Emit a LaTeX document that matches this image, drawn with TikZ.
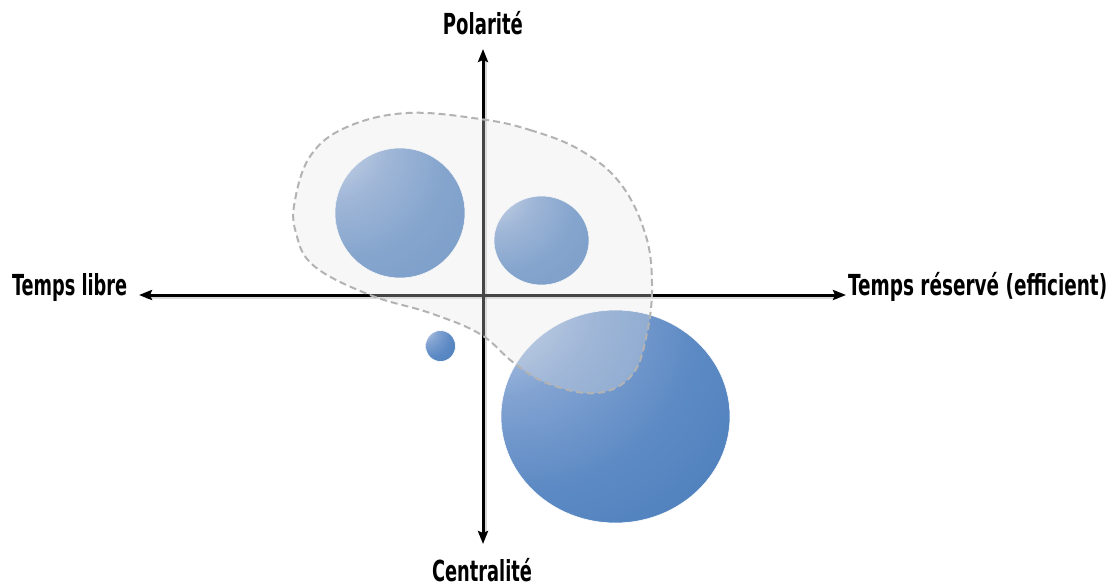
\documentclass[tikz,border=0pt]{standalone}
\usepackage{fontspec}
\usepackage{graphicx}
\newfontfamily\labfont{DejaVu Sans Condensed Bold}
\usetikzlibrary{arrows.meta}
\definecolor{bubblue}{HTML}{4F81BD}
\definecolor{bubhi}{HTML}{EEF2F9}
\definecolor{bubmid}{HTML}{BDCDE8}
\definecolor{bubmid2}{HTML}{82A3D2}
\definecolor{bubmid3}{HTML}{5D8AC4}
\definecolor{blobline}{HTML}{B3B3B3}
\pgfdeclareradialshading{bubble}{\pgfpoint{-34bp}{34bp}}{%
  color(0bp)=(bubhi); color(8bp)=(bubmid); color(22bp)=(bubmid2); color(38bp)=(bubmid3); color(52bp)=(bubblue); color(100bp)=(bubblue)}
\tikzset{
  axis/.style={line width=3pt, -{Stealth[length=13pt,width=10pt,inset=2pt]}},
  axshadow/.style={line width=3pt, black, opacity=0.15},
  bub/.style={shading=bubble, draw=white, line width=0.6pt},
  blob/.style={fill=black!10, fill opacity=0.3, draw=blobline, line width=2pt, dash pattern=on 7pt off 4pt},
  lab/.style={inner sep=0pt, font=\labfont}
}
\begin{document}
\begin{tikzpicture}[x=1pt,y=-1pt]
\useasboundingbox (0,0) rectangle (1114,586);
\coordinate (o) at (483,295);
\coordinate (l) at (139,295);
\coordinate (r) at (846,295);
\coordinate (t) at (483,49);
\coordinate (b) at (483,544);
% axis shadows
\draw[axshadow] (146,297.5) -- (838,297.5);
\draw[axshadow] (485.5,58) -- (485.5,536);
\draw[axis] (o) -- (l);
\draw[axis] (o) -- (r);
\draw[axis] (o) -- (t);
\draw[axis] (o) -- (b);
% bubbles
\path[bub] (400,213) circle [radius=65] coordinate (c1);
\path[bub] (541.5,240.5) ellipse [x radius=47.5, y radius=44.5] coordinate (c2);
\path[bub] (440.5,346) ellipse [x radius=15, y radius=15.5] coordinate (c3);
\path[bub] (615.5,416.5) ellipse [x radius=114.5, y radius=106.5] coordinate (c4);
% blob
\draw[blob] plot[smooth cycle, tension=0.65] coordinates {
 (480,119) (530,130) (580,150) (620,183) (645,233) (652,283) (647,333)
 (632,375) (597,393) (549,384) (514,363) (480,334) (430,313) (370,295)
 (314,266) (296,233) (295,200) (311,155) (347,127) (407,113)};
% labels
\node[lab, anchor=base] (pol) at (483,35) {\resizebox{80pt}{22pt}{Polarit\smash{é}}};
\node[lab, anchor=base west] (tl) at (12,295) {\resizebox{115pt}{22pt}{Temps libre}};
\node[lab, anchor=base west] (tr) at (848,295) {\resizebox{259pt}{22pt}{Temps r\smash{é}serv\smash{é} (efficient)}};
\node[lab, anchor=base] (cen) at (482,581) {\resizebox{100pt}{22pt}{Centralit\smash{é}}};
\end{tikzpicture}
\end{document}
